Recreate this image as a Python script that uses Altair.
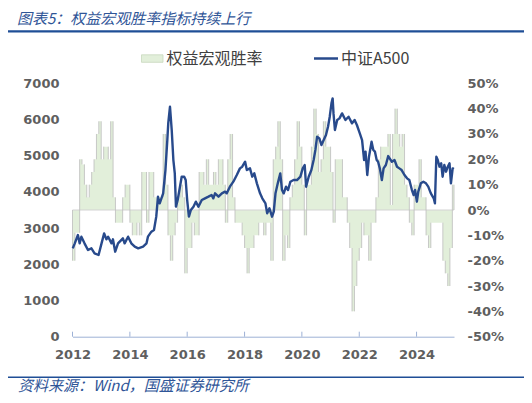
import altair as alt
import pandas as pd

# ---------------- data ----------------
title_text = "图表5：权益宏观胜率指标持续上行"
source_text = "资料来源：Wind，国盛证券研究所"
legend_bar = "权益宏观胜率"
legend_line = "中证A500"

# monthly macro win rate (%), Jan 2012 .. Apr 2025
bar_start = "2012-01-01"
bar_end = "2025-04-22"
win_rate = [
    -20, -9, -9, 20, 18, 10, 5, 10, 15, 20, 30, 35,
    20, 25, 25, 20, 35, 5, -5, -5, -5, 5, 10, 10,
    -5, -10, -10, -5, -10, 15, 15, -5, 15, 15, 5, 5,
    5, 5, 30, 10, -10, -20, -10, -5, 5, 10, 5, -25,
    -15, -15, -5, -10, -10, 15, 15, 10, 20, 10, 10, 15,
    10, 20, 20, 10, -5, 20, 30, 5, -5, -5, -5, -10,
    -15, -25, -15, -15, -10, -10, -5, -5, -10, -5, -5, -20,
    20, 25, 35, 20, -20, -10, -15, 5, 10, 20, 35, 25,
    10, -10, 10, 10, 25, 40, 30, 15, 20, 35, 25, 25,
    15, -5, 20, 20, 20, 5, 5, -5, -15, -40, -30, -20,
    -15, -5, -10, -10, -20, -5, -5, 5, 20, 25, 25, 25,
    30, 2, 30, 40, 30, 25, 30, 10, 5, -5, -10, 10,
    10, 20, 5, 5, -10, -15, -5, -5, -5, -5, -5, -20,
    -25, -30, -15, 10,
]

line_dates = [
    "2012-01-04", "2012-01-30", "2012-03-10", "2012-04-01", "2012-04-23", "2012-06-02",
    "2012-07-16", "2012-08-29", "2012-10-08", "2012-11-28", "2013-01-05", "2013-02-07",
    "2013-03-08", "2013-03-30", "2013-05-12", "2013-05-30", "2013-06-28", "2013-08-03",
    "2013-10-04", "2013-10-26", "2013-12-09", "2014-01-19", "2014-03-04", "2014-04-17",
    "2014-06-18", "2014-08-01", "2014-08-19", "2014-10-02", "2014-11-04", "2014-12-03",
    "2014-12-25", "2015-01-16", "2015-03-01", "2015-03-30", "2015-04-23", "2015-05-05",
    "2015-05-27", "2015-06-18", "2015-07-09", "2015-07-27", "2015-08-11", "2015-09-02",
    "2015-10-01", "2015-10-23", "2015-11-24", "2015-12-13", "2016-01-01", "2016-01-23",
    "2016-02-17", "2016-03-21", "2016-04-20", "2016-05-23", "2016-07-05", "2016-08-15",
    "2016-09-28", "2016-11-07", "2016-11-29", "2016-12-21", "2017-02-03", "2017-03-18",
    "2017-04-27", "2017-05-19", "2017-06-28", "2017-08-11", "2017-09-24", "2017-11-03",
    "2017-12-02", "2018-01-08", "2018-01-30", "2018-03-11", "2018-04-09", "2018-05-05",
    "2018-06-07", "2018-07-17", "2018-08-15", "2018-09-24", "2018-10-16", "2018-11-14",
    "2018-12-17", "2019-01-08", "2019-01-30", "2019-02-28", "2019-04-01", "2019-04-23",
    "2019-05-15", "2019-06-13", "2019-07-09", "2019-08-08", "2019-09-17", "2019-10-31",
    "2019-12-13", "2020-01-12", "2020-02-06", "2020-02-24", "2020-03-28", "2020-05-01",
    "2020-05-30", "2020-06-21", "2020-07-13", "2020-08-11", "2020-09-06", "2020-10-05",
    "2020-11-03", "2020-11-29", "2020-12-21", "2021-01-12", "2021-01-27", "2021-02-07",
    "2021-02-25", "2021-03-26", "2021-04-24", "2021-05-27", "2021-07-09", "2021-08-18",
    "2021-10-01", "2021-11-03", "2021-12-02", "2022-01-08", "2022-02-06", "2022-03-04",
    "2022-03-22", "2022-04-13", "2022-05-05", "2022-06-07", "2022-06-29", "2022-07-20",
    "2022-08-11", "2022-08-29", "2022-09-20", "2022-10-16", "2022-11-07", "2022-12-06",
    "2023-01-05", "2023-01-23", "2023-02-21", "2023-03-26", "2023-04-27", "2023-05-27",
    "2023-06-25", "2023-07-31", "2023-09-02", "2023-10-01", "2023-11-03", "2023-11-25",
    "2023-12-13", "2024-01-05", "2024-01-23", "2024-02-24", "2024-03-28", "2024-04-30",
    "2024-05-29", "2024-07-01", "2024-08-07", "2024-08-22", "2024-09-09", "2024-09-27",
    "2024-10-19", "2024-11-10", "2024-11-28", "2024-12-20", "2025-01-11", "2025-02-02",
    "2025-02-24", "2025-03-14", "2025-04-05", "2025-04-20",
]
line_values = [
    2441, 2579, 2809, 2579, 2763, 2579,
    2395, 2441, 2303, 2257, 2579, 2855,
    2690, 2763, 2579, 2690, 2349, 2579,
    2717, 2579, 2763, 2579, 2487, 2441,
    2487, 2579, 2763, 2901, 2947, 3316,
    3868, 3684, 3960, 4604, 5433, 5900,
    6353, 5710, 4880, 4512, 3592, 3776,
    4144, 4420, 4420, 4328, 3776, 3316,
    3500, 3592, 3730, 3592, 3776, 3822,
    3868, 3914, 3822, 3960, 3868, 3960,
    4006, 3960, 4144, 4282, 4466, 4650,
    4696, 4834, 4604, 4650, 4420, 4512,
    4236, 3960, 3822, 3684, 3408, 3546,
    3316, 3454, 3960, 4236, 4512, 4052,
    3960, 4144, 4052, 4282, 4328, 4328,
    4420, 4650, 4742, 4144, 4420, 4604,
    4880, 5157, 5525, 5479, 5295, 5433,
    5571, 5801, 6077, 6445, 6583, 6169,
    5710, 5986, 6031, 6169, 5986, 6077,
    5894, 5986, 5848, 5617, 5433, 4880,
    5111, 4466, 4972, 5387, 5157, 5111,
    4880, 4834, 4650, 4328, 4650, 4742,
    4990, 4926, 4834, 4880, 4696, 4650,
    4604, 4466, 4374, 4328, 4052, 3914,
    4052, 3730, 4006, 4236, 4282, 4236,
    4144, 3960, 3822, 3684, 4972, 4880,
    4696, 4788, 4420, 4742, 4558, 4696,
    4788, 4236, 4650, 4630,
]

tick_years = [2012, 2014, 2016, 2018, 2020, 2022, 2024]
left_ticks = [0, 1000, 2000, 3000, 4000, 5000, 6000, 7000]
right_ticks = [-50, -40, -30, -20, -10, 0, 10, 20, 30, 40, 50]

# ---------------- tables ----------------
months = list(pd.date_range(bar_start, periods=len(win_rate), freq="MS").strftime("%Y-%m-%d"))
area_df = pd.DataFrame({"date": months + [bar_end], "pct": win_rate + [win_rate[-1]]})
bounds = months + [bar_end]
prev_vals = [0] + win_rate
next_vals = win_rate + [0]
edge_df = pd.DataFrame({"date": bounds, "pct": prev_vals, "p1": next_vals})
zero_df = pd.DataFrame({"pct": [0]})
line_df = pd.DataFrame({"date": line_dates, "value": line_values})
tick_df = pd.DataFrame({"date": [f"{y}-01-01" for y in tick_years]})

W, H = 381.5, 253.4
LABEL = "#5F5F5F"
AXIS_BLUE = "#9DB1D6"
BLUE_TXT = "#2F5597"
RULE_BLUE = "#1F4E96"
FONT_CJK = "Noto Sans CJK SC"

x_scale = alt.Scale(domain=[alt.DateTime(year=2012, month=1, date=1),
                            alt.DateTime(year=2025, month=4, date=22)])
x_axis = alt.Axis(values=[alt.DateTime(year=y, month=1, date=1) for y in tick_years],
                  format="%Y", title=None, grid=False, ticks=False, tickSize=0,
                  labelPadding=12, labelFlush=False, labelOverlap=False,
                  domainColor=AXIS_BLUE, domainWidth=1)
pct_scale = alt.Scale(domain=[-50, 50], nice=False, zero=False)


def pct_axis():
    return alt.Axis(orient="right", values=right_ticks, labelExpr="datum.value + '%'",
                    title=None, grid=False, ticks=False, tickSize=0, domain=False,
                    labelPadding=13, labelAlign="left")


val_scale = alt.Scale(domain=[0, 7000], nice=False)
val_axis = alt.Axis(orient="left", values=left_ticks, format="d", title=None,
                    grid=False, ticks=False, tickSize=0, domain=False, labelPadding=13.5)

area = alt.Chart(area_df).mark_area(interpolate="step-after", color="#E2EFDA").encode(
    x=alt.X("date:T", scale=x_scale, axis=x_axis),
    y=alt.Y("pct:Q", scale=pct_scale, axis=pct_axis()),
)
zero = alt.Chart(zero_df).mark_rule(color="#D3D3D3", strokeWidth=1).encode(
    y=alt.Y("pct:Q", scale=pct_scale, axis=pct_axis()),
)
edges = alt.Chart(edge_df).mark_rule(color="#BDBDBD", strokeWidth=0.8).encode(
    x=alt.X("date:T", scale=x_scale, axis=x_axis),
    y=alt.Y("pct:Q", scale=pct_scale, axis=pct_axis()),
    y2="p1:Q",
)
bars_layer = alt.layer(area, zero, edges)

line = alt.Chart(line_df).mark_line(color="#284A8C", strokeWidth=2.4, strokeJoin="round").encode(
    x=alt.X("date:T", scale=x_scale, axis=x_axis),
    y=alt.Y("value:Q", scale=val_scale, axis=val_axis),
)

xticks = alt.Chart(tick_df).mark_rule(color=AXIS_BLUE, strokeWidth=1).encode(
    x=alt.X("date:T", scale=x_scale, axis=x_axis),
    y=alt.value(H - 5),
    y2=alt.value(H),
)

one = pd.DataFrame({"k": [0]})
title = alt.Chart(pd.DataFrame({"t": [title_text]})).mark_text(
    align="left", baseline="middle", font=FONT_CJK, fontSize=15, fontStyle="italic",
    color=BLUE_TXT).encode(x=alt.value(-55.5), y=alt.value(-64.6), text="t:N")
top_rule = alt.Chart(one).mark_rule(color=RULE_BLUE, strokeWidth=2.2).encode(
    x=alt.value(-64.5), x2=alt.value(451.5), y=alt.value(-51.9))
bottom_rule = alt.Chart(one).mark_rule(color=RULE_BLUE, strokeWidth=1.6).encode(
    x=alt.value(-64.5), x2=alt.value(451.5), y=alt.value(294))
footer = alt.Chart(pd.DataFrame({"t": [source_text]})).mark_text(
    align="left", baseline="middle", font=FONT_CJK, fontSize=15, fontStyle="italic",
    color=BLUE_TXT).encode(x=alt.value(-54.5), y=alt.value(302.8), text="t:N")

leg_swatch = alt.Chart(one).mark_rect(color="#E2EFDA", stroke="#C8D8BD", strokeWidth=0.8).encode(
    x=alt.value(69), x2=alt.value(90.5), y=alt.value(-28.5), y2=alt.value(-21))
leg_text1 = alt.Chart(pd.DataFrame({"t": [legend_bar]})).mark_text(
    align="left", baseline="middle", font=FONT_CJK, fontSize=16, color="#404040").encode(
    x=alt.value(94), y=alt.value(-24.8), text="t:N")
leg_line = alt.Chart(one).mark_rule(color="#284A8C", strokeWidth=2.5).encode(
    x=alt.value(241.5), x2=alt.value(265.5), y=alt.value(-24.8))
leg_text2 = alt.Chart(pd.DataFrame({"t": [legend_line]})).mark_text(
    align="left", baseline="middle", font=FONT_CJK, fontSize=16, color="#404040").encode(
    x=alt.value(268.5), y=alt.value(-24.8), text="t:N")

chart = alt.layer(
    bars_layer, line, xticks, title, top_rule, bottom_rule, footer,
    leg_swatch, leg_text1, leg_line, leg_text2,
).resolve_scale(y="independent").properties(
    width=W, height=H,
    padding={"left": 64.5, "top": 75.3, "right": 70, "bottom": 58.3},
    autosize=alt.AutoSizeParams(type="none"),
).configure_view(stroke=None).configure_axis(
    labelFont="DejaVu Sans", labelFontWeight="bold", labelFontSize=13, labelColor=LABEL,
)

chart.save("out.html", embed_options={"renderer": "svg", "actions": False})
